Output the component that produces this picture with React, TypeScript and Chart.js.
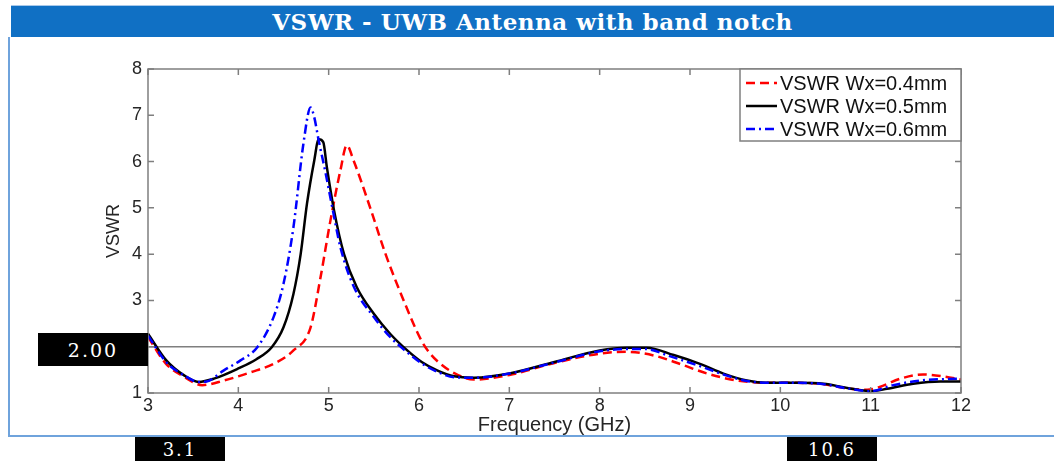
import React, { useEffect, useRef } from "react";
import { Chart, registerables } from "chart.js";

Chart.register(...registerables);

const TITLE = "VSWR - UWB Antenna with band notch";
const X_LABEL = "Frequency (GHz)";
const Y_LABEL = "VSWR";
const SERIES_LABELS = ["VSWR Wx=0.4mm", "VSWR Wx=0.5mm", "VSWR Wx=0.6mm"];

const freq04 = [3.0, 3.2, 3.4, 3.6, 3.84, 4.14, 4.39, 4.61, 4.8, 4.91, 5.02, 5.13, 5.2, 5.28, 5.46, 5.63, 5.83, 6.03, 6.12, 6.22, 6.39, 6.61, 7.0, 7.5, 8.0, 8.3, 8.6, 8.9, 9.19, 9.52, 9.85, 10.18, 10.48, 10.74, 10.96, 11.1, 11.33, 11.58, 11.8, 12.0];
const vswr04 = [2.21, 1.63, 1.35, 1.17, 1.27, 1.45, 1.63, 1.92, 2.42, 3.5, 4.73, 5.81, 6.35, 6.0, 5.0, 4.0, 3.0, 2.12, 1.86, 1.66, 1.43, 1.29, 1.39, 1.65, 1.85, 1.89, 1.81, 1.62, 1.42, 1.27, 1.22, 1.22, 1.19, 1.1, 1.07, 1.13, 1.31, 1.4, 1.36, 1.29];

const freq05 = [3.0, 3.2, 3.4, 3.56, 3.73, 4.0, 4.2, 4.37, 4.5, 4.61, 4.69, 4.76, 4.84, 4.89, 4.94, 4.98, 5.06, 5.17, 5.31, 5.5, 5.68, 5.87, 6.03, 6.2, 6.39, 6.61, 7.0, 7.5, 8.0, 8.3, 8.52, 8.82, 9.11, 9.37, 9.63, 9.85, 10.18, 10.48, 10.74, 11.0, 11.18, 11.47, 11.77, 12.0];
const vswr05 = [2.28, 1.71, 1.38, 1.24, 1.31, 1.53, 1.73, 1.99, 2.42, 3.14, 4.0, 5.09, 6.02, 6.48, 6.42, 5.88, 4.94, 4.0, 3.29, 2.71, 2.28, 1.92, 1.67, 1.49, 1.36, 1.33, 1.42, 1.67, 1.92, 1.98, 1.98, 1.82, 1.63, 1.42, 1.27, 1.22, 1.22, 1.2, 1.11, 1.04, 1.09, 1.2, 1.25, 1.25];

const freq06 = [3.0, 3.2, 3.4, 3.56, 3.65, 3.84, 4.02, 4.21, 4.39, 4.5, 4.61, 4.72, 4.8, 4.84, 4.89, 4.96, 5.04, 5.13, 5.28, 5.5, 5.68, 5.87, 6.03, 6.2, 6.39, 6.61, 7.0, 7.5, 8.0, 8.3, 8.5, 8.8, 9.11, 9.37, 9.63, 9.85, 10.18, 10.48, 10.74, 11.0, 11.25, 11.55, 12.0];
const vswr06 = [2.24, 1.67, 1.38, 1.24, 1.25, 1.49, 1.7, 1.99, 2.64, 3.36, 4.58, 6.38, 7.17, 6.96, 6.45, 5.81, 5.01, 4.15, 3.29, 2.64, 2.21, 1.88, 1.64, 1.46, 1.34, 1.33, 1.42, 1.66, 1.9, 1.95, 1.95, 1.78, 1.58, 1.4, 1.26, 1.22, 1.22, 1.19, 1.1, 1.04, 1.17, 1.27, 1.31];

const X_MIN = 3;
const X_MAX = 12;
const Y_MIN = 1;
const Y_MAX = 8;
const REF_LINE = 2;

const MARK_Y = "2.00";
const MARK_X1 = "3.1";
const MARK_X2 = "10.6";

const toPts = (xs: number[], ys: number[]) => xs.map((x, i) => ({ x, y: ys[i] }));

const SANS = "'Liberation Sans', Arial, sans-serif";

const framePlugin = {
  id: "frame",
  afterDatasetsDraw(chart: any) {
    const { ctx, chartArea: a, scales } = chart;
    const xs = scales.x;
    const ys = scales.y;
    ctx.save();
    ctx.strokeStyle = "#7f7f7f";
    ctx.lineWidth = 1.5;
    ctx.strokeRect(a.left, a.top, a.right - a.left, a.bottom - a.top);
    ctx.beginPath();
    const tl = 6;
    for (const t of xs.ticks) {
      const px = xs.getPixelForValue(t.value);
      ctx.moveTo(px, a.bottom);
      ctx.lineTo(px, a.bottom - tl);
      ctx.moveTo(px, a.top);
      ctx.lineTo(px, a.top + tl);
    }
    for (const t of ys.ticks) {
      const py = ys.getPixelForValue(t.value);
      ctx.moveTo(a.left, py);
      ctx.lineTo(a.left + tl, py);
      ctx.moveTo(a.right, py);
      ctx.lineTo(a.right - tl, py);
    }
    ctx.stroke();

    // legend box
    const w = 221;
    const h = 72;
    const lx = a.right - w;
    const ly = a.top;
    ctx.fillStyle = "#ffffff";
    ctx.fillRect(lx, ly, w, h);
    ctx.strokeRect(lx, ly, w, h);
    const dsets = chart.data.datasets;
    dsets.forEach((ds: any, i: number) => {
      const y = ly + 14 + i * 23;
      ctx.save();
      ctx.strokeStyle = ds.borderColor;
      ctx.lineWidth = ds.borderWidth;
      ctx.setLineDash(ds.borderDash || []);
      ctx.beginPath();
      ctx.moveTo(lx + 6, y);
      ctx.lineTo(lx + 37, y);
      ctx.stroke();
      ctx.restore();
      ctx.fillStyle = "#111111";
      ctx.font = `20px ${SANS}`;
      ctx.textBaseline = "middle";
      ctx.textAlign = "left";
      ctx.fillText(ds.label, lx + 40, y + 1);
    });
    ctx.restore();
  },
};

export default function App() {
  const ref = useRef<HTMLCanvasElement | null>(null);

  useEffect(() => {
    if (!ref.current) return;
    const chart = new Chart(ref.current, {
      type: "line",
      data: {
        datasets: [
          {
            label: SERIES_LABELS[0],
            data: toPts(freq04, vswr04),
            borderColor: "#ff0000",
            borderWidth: 2.5,
            borderDash: [9, 5],
            pointRadius: 0,
            cubicInterpolationMode: "monotone",
            fill: false,
            order: 3,
          },
          {
            label: SERIES_LABELS[1],
            data: toPts(freq05, vswr05),
            borderColor: "#000000",
            borderWidth: 2.5,
            pointRadius: 0,
            cubicInterpolationMode: "monotone",
            fill: false,
            order: 2,
          },
          {
            label: SERIES_LABELS[2],
            data: toPts(freq06, vswr06),
            borderColor: "#0000ff",
            borderWidth: 2.5,
            borderDash: [9, 4, 2, 4],
            pointRadius: 0,
            cubicInterpolationMode: "monotone",
            fill: false,
            order: 1,
          },
        ],
      },
      options: {
        animation: false,
        responsive: false,
        events: [],
        layout: { padding: { left: 0, top: 69, right: 93, bottom: 0 } },
        plugins: {
          legend: { display: false },
          title: { display: false },
          tooltip: { enabled: false },
        },
        scales: {
          x: {
            type: "linear",
            min: X_MIN,
            max: X_MAX,
            ticks: {
              stepSize: 1,
              color: "#262626",
              font: { size: 18, family: SANS },
              padding: 2,
              maxRotation: 0,
            },
            grid: { display: false, drawTicks: false },
            border: { display: false },
            title: {
              display: true,
              text: X_LABEL,
              color: "#262626",
              font: { size: 20, family: SANS },
              padding: { top: 0, bottom: 24 },
            },
            afterFit: (s: any) => {
              s.height = 68;
            },
          },
          y: {
            min: Y_MIN,
            max: Y_MAX,
            ticks: {
              stepSize: 1,
              color: "#262626",
              font: { size: 18, family: SANS },
              padding: 6,
            },
            grid: {
              drawTicks: false,
              lineWidth: 1.5,
              color: (c: any) => (c.tick && c.tick.value === REF_LINE ? "#7f7f7f" : "rgba(0,0,0,0)"),
            },
            border: { display: false },
            title: {
              display: true,
              text: Y_LABEL,
              color: "#262626",
              font: { size: 18, family: SANS },
              padding: { top: 103, bottom: 0 },
            },
            afterFit: (s: any) => {
              s.width = 148;
            },
          },
        },
      },
      plugins: [framePlugin],
    } as any);
    return () => chart.destroy();
  }, []);

  const box = (left: number, top: number, width: number, height: number, text: string, size: number) => (
    <div
      style={{
        position: "absolute",
        left,
        top,
        width,
        height,
        background: "#000",
        color: "#fff",
        fontFamily: "'DejaVu Serif', serif",
        fontSize: size,
        letterSpacing: 2,
        display: "flex",
        alignItems: "center",
        justifyContent: "center",
        zIndex: 3,
      }}
    >
      {text}
    </div>
  );

  return (
    <div
      style={{
        position: "fixed",
        left: 0,
        top: 0,
        width: 1054,
        height: 461,
        background: "#ffffff",
        overflow: "hidden",
      }}
    >
      <div
        style={{
          position: "absolute",
          left: 11,
          top: 5,
          width: 1043,
          height: 32,
          background: "#1070c4",
          borderTop: "1px solid #a9c9ea",
          boxSizing: "border-box",
          color: "#ffffff",
          fontFamily: "'DejaVu Serif', serif",
          fontWeight: "bold",
          fontSize: 23,
          letterSpacing: 0.5,
          display: "flex",
          alignItems: "center",
          justifyContent: "center",
          zIndex: 2,
        }}
      >
        <span>{TITLE}</span>
      </div>
      <div
        style={{
          position: "absolute",
          left: 8,
          top: 37,
          width: 1060,
          height: 400,
          borderLeft: "2px solid #6fa3dc",
          borderBottom: "2px solid #6fa3dc",
          boxSizing: "border-box",
        }}
      />
      <canvas
        ref={ref}
        width={1054}
        height={461}
        style={{ position: "absolute", left: 0, top: 0, width: 1054, height: 461, zIndex: 1 }}
      />
      {box(38, 333, 110, 33, MARK_Y, 19)}
      {box(135, 437, 90, 24, MARK_X1, 18)}
      {box(787, 437, 90, 24, MARK_X2, 18)}
    </div>
  );
}
